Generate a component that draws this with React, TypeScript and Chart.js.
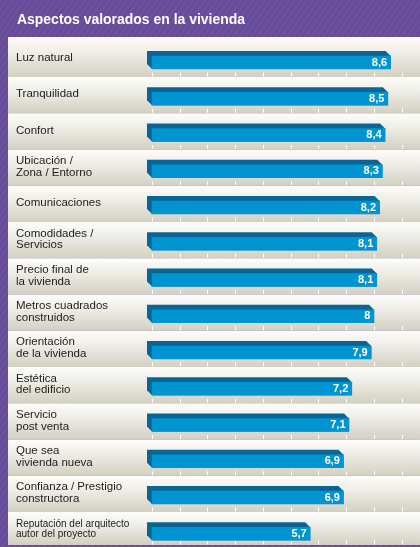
import React, { useEffect, useRef } from "react";
import { Chart, registerables } from "chart.js";

Chart.register(...registerables);

const title = "Aspectos valorados en la vivienda";
const categories: string[][] = [
  ["Luz natural"],
  ["Tranquilidad"],
  ["Confort"],
  ["Ubicación /", "Zona / Entorno"],
  ["Comunicaciones"],
  ["Comodidades /", "Servicios"],
  ["Precio final de", "la vivienda"],
  ["Metros cuadrados", "construidos"],
  ["Orientación", "de la vivienda"],
  ["Estética", "del edificio"],
  ["Servicio", "post venta"],
  ["Que sea", "vivienda nueva"],
  ["Confianza / Prestigio", "constructora"],
  ["Reputación del arquitecto", "autor del proyecto"],
];
const values = [8.6, 8.5, 8.4, 8.3, 8.2, 8.1, 8.1, 8, 7.9, 7.2, 7.1, 6.9, 6.9, 5.7];
const valueLabels = ["8,6", "8,5", "8,4", "8,3", "8,2", "8,1", "8,1", "8", "7,9", "7,2", "7,1", "6,9", "6,9", "5,7"];
const axisTicks = [0, 1, 2, 3, 4, 5, 6, 7, 8, 9];

const W = 420;
const H = 547;
const PANEL_LEFT = 8;
const PANEL_TOP = 37;
const PANEL_BOTTOM = 545;

const decorPlugin = {
  id: "decor",
  beforeDraw(chart: any) {
    const ctx = chart.ctx as CanvasRenderingContext2D;
    const yScale = chart.scales.y;
    const xScale = chart.scales.x;
    ctx.save();
    // purple background
    ctx.fillStyle = "#6b509e";
    ctx.fillRect(0, 0, W, H);
    ctx.strokeStyle = "rgba(85,60,135,0.3)";
    ctx.lineWidth = 1.5;
    for (let s = -H; s < W + H; s += 6) {
      ctx.beginPath();
      ctx.moveTo(s, H);
      ctx.lineTo(s + H * 0.7, 0);
      ctx.stroke();
    }
    // title
    ctx.fillStyle = "#ffffff";
    ctx.font = "bold 14px 'Liberation Sans', Arial, sans-serif";
    ctx.textBaseline = "alphabetic";
    ctx.textAlign = "left";
    const tw = ctx.measureText(title).width;
    const sx = 228 / tw;
    ctx.save();
    ctx.translate(17, 23.5);
    ctx.scale(sx, 1);
    ctx.fillText(title, 0, 0);
    ctx.restore();

    // rows
    const n = categories.length;
    for (let i = 0; i < n; i++) {
      const c = yScale.getPixelForValue(i);
      const top = i === 0 ? PANEL_TOP : c - 21.75;
      const bottom = i === n - 1 ? PANEL_BOTTOM : c + 14.5;
      const g = ctx.createLinearGradient(0, top, 0, bottom);
      g.addColorStop(0, "#fdfdfb");
      g.addColorStop(0.35, "#f0efe9");
      g.addColorStop(1, "#d3d0c2");
      ctx.fillStyle = g;
      ctx.fillRect(PANEL_LEFT, top, W - PANEL_LEFT, bottom - top);
      // ticks
      ctx.fillStyle = "#ffffff";
      const tb = i === n - 1 ? bottom : c + 14.5;
      for (const t of axisTicks) {
        const tx = Math.round(xScale.getPixelForValue(t));
        ctx.fillRect(tx, tb - 4.5, 1, 4);
      }
      // labels
      const lines = categories[i];
      let fs = 11.5;
      ctx.font = `${fs}px 'Liberation Sans', Arial, sans-serif`;
      const maxW = Math.max(...lines.map((l) => ctx.measureText(l).width));
      if (maxW > 115) {
        fs = 10;
        ctx.font = `${fs}px 'Liberation Sans', Arial, sans-serif`;
      }
      const lh = fs <= 10 ? 10.7 : 11.8;
      const center = c - 4.5;
      ctx.fillStyle = "#1f1d1c";
      ctx.textBaseline = "middle";
      lines.forEach((l, k) => {
        const ly = center + (k - (lines.length - 1) / 2) * lh;
        ctx.fillText(l, 16, ly);
      });
    }
    ctx.restore();
  },
  beforeDatasetsDraw(chart: any) {
    const ctx = chart.ctx as CanvasRenderingContext2D;
    const meta = chart.getDatasetMeta(0);
    ctx.save();
    ctx.fillStyle = "#0a6595";
    meta.data.forEach((bar: any) => {
      const { x, base, y, height } = bar.getProps(["x", "base", "y", "height"], true);
      const yt = y - height / 2;
      const yb = y + height / 2;
      const d = 5;
      ctx.beginPath();
      ctx.moveTo(base - d, yt - d);
      ctx.lineTo(x - d, yt - d);
      ctx.lineTo(x, yt);
      ctx.lineTo(x, yb);
      ctx.lineTo(base, yb);
      ctx.lineTo(base - d, yb - d);
      ctx.closePath();
      ctx.fill();
    });
    ctx.restore();
  },
  afterDatasetsDraw(chart: any) {
    const ctx = chart.ctx as CanvasRenderingContext2D;
    const meta = chart.getDatasetMeta(0);
    ctx.save();
    ctx.fillStyle = "#ffffff";
    ctx.font = "bold 11px 'Liberation Sans', Arial, sans-serif";
    ctx.textAlign = "right";
    ctx.textBaseline = "middle";
    meta.data.forEach((bar: any, i: number) => {
      const { x, y } = bar.getProps(["x", "y"], true);
      ctx.fillText(valueLabels[i], x - 3.5, y);
    });
    ctx.restore();
  },
};

export default function App() {
  const ref = useRef<HTMLCanvasElement | null>(null);
  useEffect(() => {
    if (!ref.current) return;
    const chart = new Chart(ref.current, {
      type: "bar",
      data: {
        labels: categories.map((c) => c.join(" ")),
        datasets: [
          {
            data: values,
            backgroundColor: "#0094d0",
            borderWidth: 0,
            barThickness: 13,
            clip: false as any,
          },
        ],
      },
      options: {
        indexAxis: "y",
        responsive: false,
        animation: false,
        devicePixelRatio: 1,
        layout: { padding: { left: 152, right: 0, top: 62.5, bottom: 13.25 } },
        plugins: { legend: { display: false }, tooltip: { enabled: false }, title: { display: false } },
        scales: {
          x: { type: "linear", min: 0, max: 9.658, display: false },
          y: { type: "category", offset: false, display: false, grid: { offset: false } },
        },
      },
      plugins: [decorPlugin],
    });
    return () => chart.destroy();
  }, []);
  return (
    <div style={{ position: "fixed", left: 0, top: 0, width: W, height: H }}>
      <canvas ref={ref} width={W} height={H} style={{ display: "block", width: W, height: H }} />
    </div>
  );
}
